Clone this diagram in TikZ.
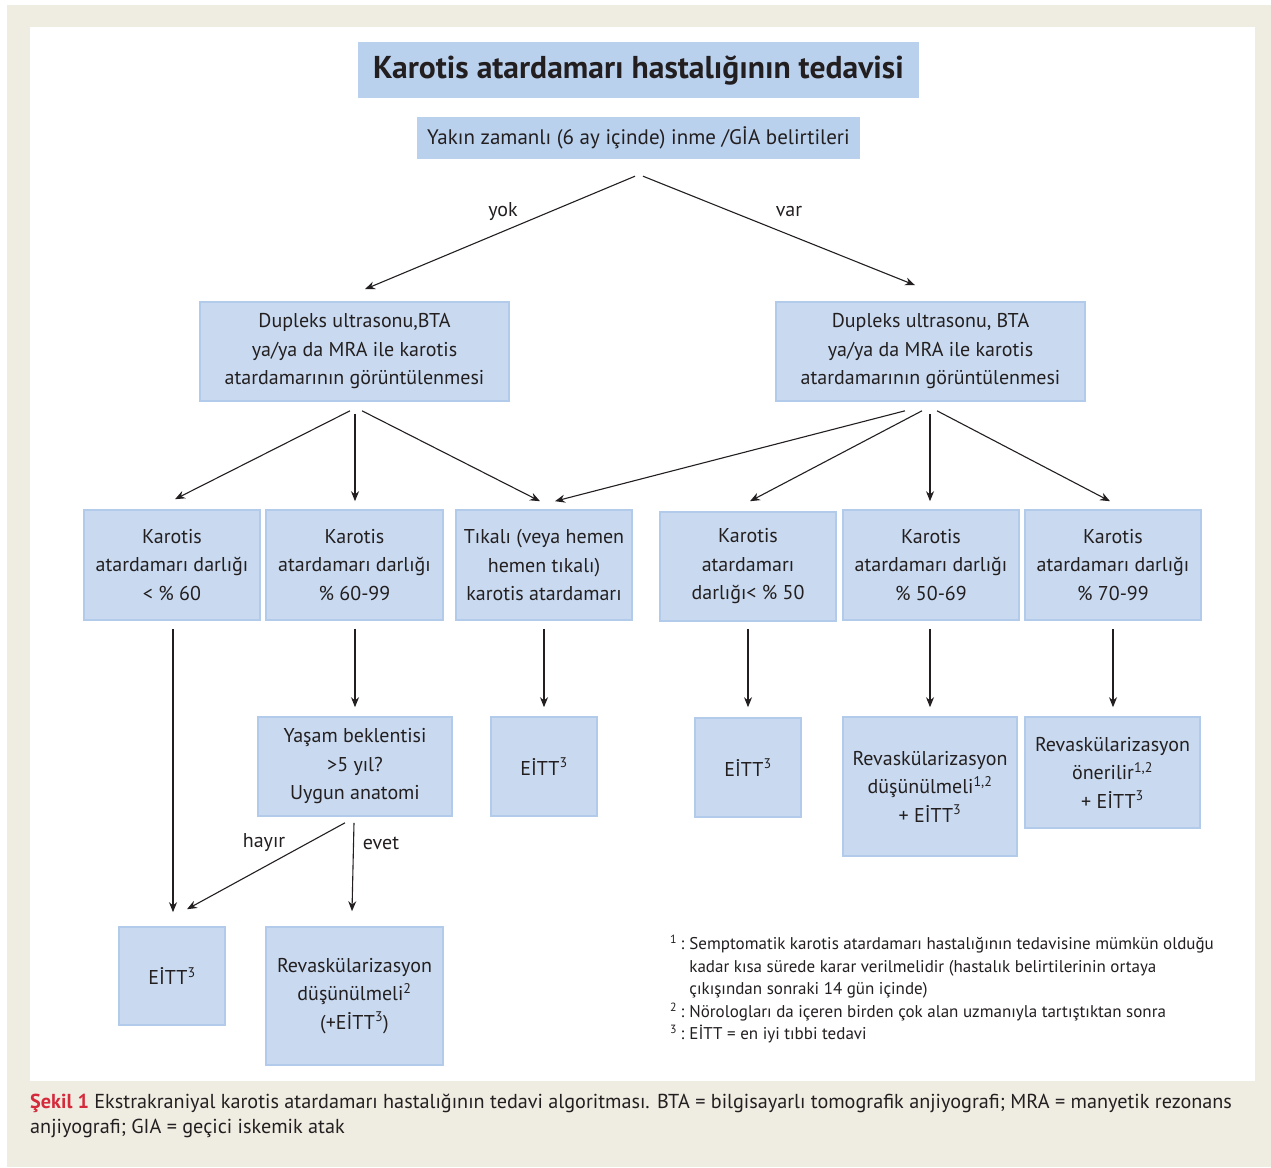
\documentclass[tikz,border=0pt]{standalone}
\usepackage{fontspec}
\setmainfont{PT Sans}
\usetikzlibrary{calc,arrows.meta}
\definecolor{beige}{HTML}{EFECE2}
\definecolor{hdrfill}{HTML}{BAD1EE}
\definecolor{boxfill}{HTML}{C9DAF0}
\definecolor{boxline}{HTML}{B3CBEA}
\definecolor{txt}{HTML}{231F20}
\definecolor{capred}{HTML}{D42A3C}
\newcommand{\supr}[1]{\textsuperscript{#1}}
\newcommand{\fnmk}[1]{\supr{#1}\hspace{0.2em}:\hspace{0.3em}}
\begin{document}
\begin{tikzpicture}[x=1pt,y=-1pt,
  every node/.style={text=txt},
  hdr/.style={fill=hdrfill, inner sep=0pt, align=center},
  box/.style={fill=boxfill, draw=boxline, line width=1.6pt, inner sep=0pt, align=center,
     font=\fontsize{20}{28.5}\selectfont},
  arr/.style={draw=txt, line width=1.1pt, -{Stealth[length=10pt,width=8pt]}},
  lbl/.style={font=\fontsize{20}{24}\selectfont, inner sep=0pt},
]
\useasboundingbox (0,0) rectangle (1271,1167);
\fill[beige] (7,5) rectangle (1271,1167);
\fill[white] (30,27) rectangle (1255,1081);

% header
\node[hdr, minimum width=561pt, minimum height=56pt, font=\bfseries\fontsize{31.6}{34}\selectfont] (title) at (638.5,70) {Karotis atardamarı hastalığının tedavisi};
\node[hdr, minimum width=443pt, minimum height=42pt, font=\fontsize{21}{24}\selectfont] (sub) at (638.5,138) {Yakın zamanlı (6 ay içinde) inme /GİA belirtileri};

% imaging
\node[box, minimum width=309pt, minimum height=99pt] (dl) at (354.5,351.5) {Dupleks ultrasonu,BTA\\ya/ya da MRA ile karotis\\atardamarının görüntülenmesi};
\node[box, minimum width=309pt, minimum height=99pt] (dr) at (930.5,351.5) {Dupleks ultrasonu, BTA\\ya/ya da MRA ile karotis\\atardamarının görüntülenmesi};

% row 3
\node[box, minimum width=176pt, minimum height=110pt] (a) at (172,565) {Karotis\\atardamarı darlığı\\< \% 60};
\node[box, minimum width=177pt, minimum height=110pt] (b) at (354.5,565) {Karotis\\atardamarı darlığı\\\% 60-99};
\node[box, minimum width=176pt, minimum height=110pt] (c) at (544,565) {Tıkalı (veya hemen\\hemen tıkalı)\\karotis atardamarı};
\node[box, minimum width=176pt, minimum height=109pt] (d) at (748,566.5) {Karotis\\atardamarı\\darlığı< \% 50};
\node[box, minimum width=176pt, minimum height=110pt] (e) at (931,565) {Karotis\\atardamarı darlığı\\\% 50-69};
\node[box, minimum width=176pt, minimum height=110pt] (f) at (1113,565) {Karotis\\atardamarı darlığı\\\% 70-99};

% row 4
\node[box, minimum width=194pt, minimum height=99pt] (y) at (355,766.5) {Yaşam beklentisi\\>5 yıl?\\Uygun anatomi};
\node[box, minimum width=106pt, minimum height=99pt] (g) at (544,766.5) {EİTT\supr{3}};
\node[box, minimum width=106pt, minimum height=99pt] (h) at (748,767.5) {EİTT\supr{3}};
\node[box, minimum width=174pt, minimum height=139pt] (re) at (930,786.5) {Revaskülarizasyon\\düşünülmeli\supr{1,2}\\+ EİTT\supr{3}};
\node[box, minimum width=175pt, minimum height=111pt] (rf) at (1112.5,772.5) {Revaskülarizasyon\\önerilir\supr{1,2}\\+ EİTT\supr{3}};

% row 5
\node[box, minimum width=106pt, minimum height=98pt] (k) at (172,976) {EİTT\supr{3}};
\node[box, minimum width=177pt, minimum height=138pt] (r5) at (354.5,996) {Revaskülarizasyon\\düşünülmeli\supr{2}\\(+EİTT\supr{3})};

% connectors
\draw[arr] ($(sub.south)+(-3.5,17)$) -- ($(dl.north)+(10.5,-12)$);
\draw[arr] ($(sub.south)+(4.5,17)$) -- ($(dr.north)+(-15.5,-16)$);
\node[lbl] (lyok) at (503,212) {yok};
\node[lbl] (lvar) at (789,212) {var};

\draw[arr] ($(dl.south)+(-4.5,9)$) -- ($(a.north)+(3,-10)$);
\draw[arr] ($(dl.south)+(0.5,12)$) -- ($(b.north)+(0.5,-8)$);
\draw[arr] ($(dl.south)+(7.5,9)$) -- ($(c.north)+(-4,-8)$);
\draw[arr] ($(dr.south)+(-25.5,9)$) -- ($(c.north)+(11,-8)$);
\draw[arr] ($(dr.south)+(-8.5,9)$) -- ($(d.north)+(2,-10)$);
\draw[arr] ($(dr.south)+(-0.5,12)$) -- ($(e.north)+(-1,-8)$);
\draw[arr] ($(dr.south)+(6.5,9)$) -- ($(f.north)+(-3,-8)$);

\draw[arr] ($(a.south)+(1,8)$) -- ($(k.north)+(1,-14)$);
\draw[arr] ($(b.south)+(0.5,8)$) -- ($(y.north)+(0,-9)$);
\draw[arr] ($(c.south)+(0,8)$) -- ($(g.north)+(0,-9)$);
\draw[arr] ($(d.south)+(0,7)$) -- ($(h.north)+(0,-10)$);
\draw[arr] ($(e.south)+(-1,8)$) -- ($(re.north)+(0,-9)$);
\draw[arr] ($(f.south)+(0,8)$) -- ($(rf.north)+(0.5,-9)$);

\draw[arr] ($(y.south)+(-10,6)$) -- ($(k.north)+(15,-17)$);
\draw[arr] ($(y.south)+(-1,6)$) -- ($(r5.north)+(-2.5,-15)$);
\node[lbl] (lhay) at (264,843) {hayır};
\node[lbl] (levet) at (381,843) {evet};

% footnotes
\node[anchor=north west, inner sep=0pt, font=\fontsize{17}{22.5}\selectfont] (notes) at (670,934) {%
\begin{tabular}{@{}r@{}l@{}}
\fnmk{1} & Semptomatik karotis atardamarı hastalığının tedavisine mümkün olduğu\\
 & kadar kısa sürede karar verilmelidir (hastalık belirtilerinin ortaya\\
 & çıkışından sonraki 14 gün içinde)\\
\fnmk{2} & Nörologları da içeren birden çok alan uzmanıyla tartıştıktan sonra\\
\fnmk{3} & EİTT = en iyi tıbbi tedavi
\end{tabular}};

% caption
\node[anchor=north west, inner sep=0pt, align=left, font=\fontsize{20.2}{25}\selectfont] (cap) at (30,1094) {%
{\bfseries\color{capred}Şekil 1} Ekstrakraniyal karotis atardamarı hastalığının tedavi algoritması. BTA = bilgisayarlı tomografik anjiyografi; MRA = manyetik rezonans\\
anjiyografi; GIA = geçici iskemik atak};
\end{tikzpicture}
\end{document}
